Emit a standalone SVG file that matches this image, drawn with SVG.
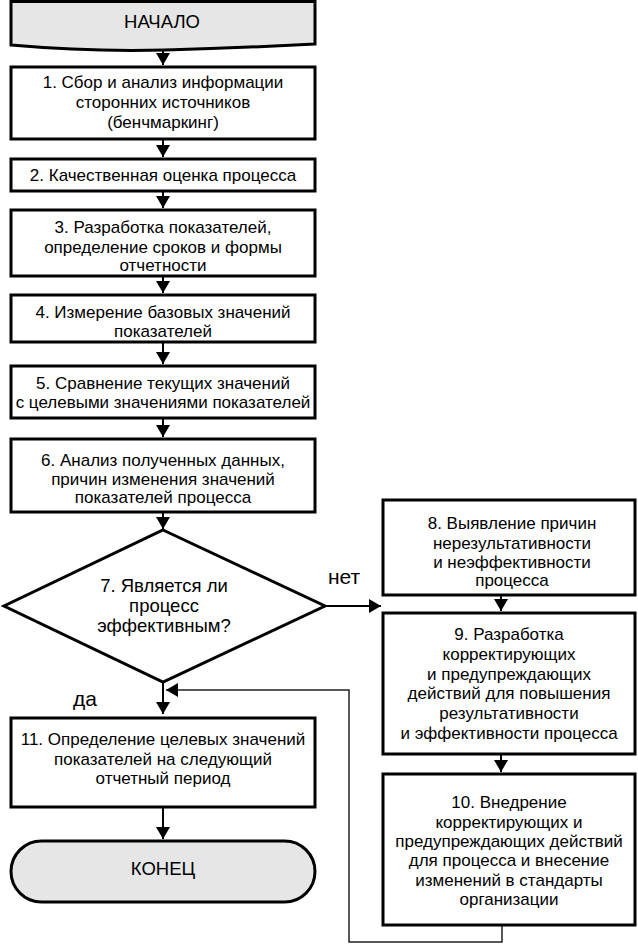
<svg xmlns="http://www.w3.org/2000/svg" width="638" height="945" viewBox="0 0 638 945">
<style>
.box{fill:#fff;stroke:#000;stroke-width:3}
.term{fill:#e6e6e6;stroke:#000;stroke-width:3}
.t{font-family:"Liberation Sans",Arial,sans-serif;font-size:17px;fill:#000;text-anchor:middle}
.big{font-size:18.5px}
.lbl{font-family:"Liberation Sans",Arial,sans-serif;font-size:21px;fill:#000}
.c{fill:none;stroke:#000;stroke-width:2}
.loop{fill:none;stroke:#222;stroke-width:1.5}
</style>
<defs>
<marker id="ah" viewBox="0 0 12 14" refX="12" refY="7" markerWidth="12" markerHeight="14" markerUnits="userSpaceOnUse" orient="auto">
<path d="M0,0 L12,7 L0,14 z" fill="#000"/>
</marker>
</defs>
<rect width="638" height="945" fill="#fff"/>
<g id="connectors">
<line class="c" x1="163" y1="49" x2="163" y2="65" marker-end="url(#ah)"/>
<line class="c" x1="163" y1="140" x2="163" y2="157" marker-end="url(#ah)"/>
<line class="c" x1="163" y1="192" x2="163" y2="208" marker-end="url(#ah)"/>
<line class="c" x1="163" y1="277" x2="163" y2="293" marker-end="url(#ah)"/>
<line class="c" x1="163" y1="343" x2="163" y2="364" marker-end="url(#ah)"/>
<line class="c" x1="163" y1="419" x2="163" y2="437" marker-end="url(#ah)"/>
<line class="c" x1="163" y1="513" x2="163" y2="529" marker-end="url(#ah)"/>
<line class="c" x1="163" y1="682" x2="163" y2="714" marker-end="url(#ah)"/>
<line class="c" x1="163" y1="808" x2="163" y2="839" marker-end="url(#ah)"/>
<line class="c" x1="325" y1="606" x2="381" y2="606" marker-end="url(#ah)"/>
<line class="c" x1="501" y1="596" x2="501" y2="611" marker-end="url(#ah)"/>
<line class="c" x1="501" y1="755" x2="501" y2="772" marker-end="url(#ah)"/>
<polyline class="loop" points="502,926 502,942 349,942 349,690 166,690" marker-end="url(#ah)"/>
<text class="lbl" x="328" y="584">нет</text>
<text class="lbl" x="73" y="706">да</text>
</g>
<g id="start">
<path class="term" d="M11,1.5 L315,1.5 L315,44 Q240,48 165,50 Q90,52 11,45 Z"/>
<text class="t big" x="162" y="28">НАЧАЛО</text>
</g>
<g id="n1">
<rect class="box" x="11" y="67" width="304" height="72"/>
<text class="t" x="163" y="88">1. Сбор и анализ информации</text>
<text class="t" x="163" y="108">сторонних источников</text>
<text class="t" x="163" y="128">(бенчмаркинг)</text>
</g>
<g id="n2">
<rect class="box" x="11" y="159" width="304" height="32"/>
<text class="t" x="163" y="181">2. Качественная оценка процесса</text>
</g>
<g id="n3">
<rect class="box" x="11" y="210" width="304" height="66"/>
<text class="t" x="163" y="233">3. Разработка показателей,</text>
<text class="t" x="163" y="253">определение сроков и формы</text>
<text class="t" x="163" y="271">отчетности</text>
</g>
<g id="n4">
<rect class="box" x="11" y="295" width="304" height="47"/>
<text class="t" x="163" y="318">4. Измерение базовых значений</text>
<text class="t" x="163" y="337">показателей</text>
</g>
<g id="n5">
<rect class="box" x="11" y="366" width="304" height="52"/>
<text class="t" x="163" y="389">5. Сравнение текущих значений</text>
<text class="t" x="163" y="408">с целевыми значениями показателей</text>
</g>
<g id="n6">
<rect class="box" x="11" y="439" width="304" height="73"/>
<text class="t" x="163" y="466">6. Анализ полученных данных,</text>
<text class="t" x="163" y="485">причин изменения значений</text>
<text class="t" x="163" y="503">показателей процесса</text>
</g>
<g id="n7">
<polygon class="box" points="163,530 325,606 163,682 4,606"/>
<text class="t big" x="164" y="592">7. Является ли</text>
<text class="t big" x="164" y="612">процесс</text>
<text class="t big" x="164" y="632">эффективным?</text>
</g>
<g id="n8">
<rect class="box" x="383" y="500" width="252" height="95"/>
<text class="t" x="512" y="529">8. Выявление причин</text>
<text class="t" x="512" y="549">нерезультативности</text>
<text class="t" x="512" y="568">и неэффективности</text>
<text class="t" x="512" y="586">процесса</text>
</g>
<g id="n9">
<rect class="box" x="383" y="613" width="252" height="141"/>
<text class="t" x="509" y="640">9. Разработка</text>
<text class="t" x="509" y="660">корректирующих</text>
<text class="t" x="509" y="680">и предупреждающих</text>
<text class="t" x="509" y="699">действий для повышения</text>
<text class="t" x="509" y="719">результативности</text>
<text class="t" x="509" y="739">и эффективности процесса</text>
</g>
<g id="n10">
<rect class="box" x="383" y="774" width="252" height="151"/>
<text class="t" x="509" y="808">10. Внедрение</text>
<text class="t" x="509" y="828">корректирующих и</text>
<text class="t" x="509" y="847">предупреждающих действий</text>
<text class="t" x="509" y="866">для процесса и внесение</text>
<text class="t" x="509" y="886">изменений в стандарты</text>
<text class="t" x="509" y="905">организации</text>
</g>
<g id="n11">
<rect class="box" x="11" y="718" width="304" height="89"/>
<text class="t" x="163" y="745">11. Определение целевых значений</text>
<text class="t" x="163" y="765">показателей на следующий</text>
<text class="t" x="163" y="784">отчетный период</text>
</g>
<g id="end">
<rect class="term" x="11" y="841" width="304" height="61" rx="30.5"/>
<text class="t big" x="163" y="875">КОНЕЦ</text>
</g>
</svg>
